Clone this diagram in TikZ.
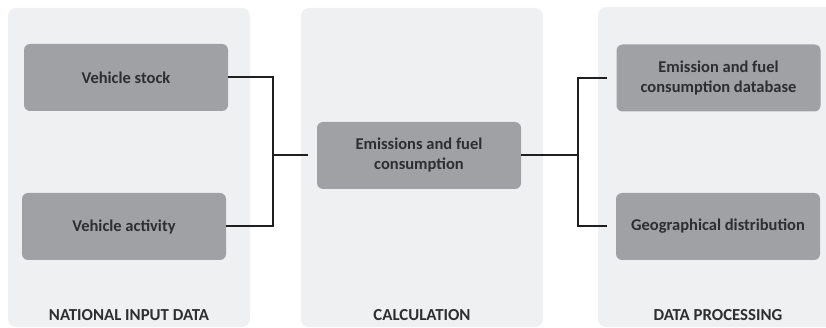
\documentclass[tikz,border=0pt]{standalone}
\usepackage{fontspec}
\setmainfont{Carlito}
\definecolor{panelgray}{HTML}{EFF0F2}
\definecolor{boxgray}{HTML}{A0A1A4}
\definecolor{txtgray}{HTML}{2E2E30}
\tikzset{
  panel/.style={fill=panelgray,rounded corners=8pt},
  stepbox/.style={fill=boxgray,rounded corners=6pt,minimum width=204pt,
    minimum height=67pt,align=center,inner sep=0pt,text=txtgray,
    font=\bfseries\fontsize{16.5}{20}\selectfont},
  paneltitle/.style={text=txtgray,font=\bfseries\fontsize{16.8}{19}\selectfont},
  wire/.style={line width=2pt,black!88}
}
\begin{document}
\begin{tikzpicture}[x=1pt,y=-1pt]
      \useasboundingbox (0,0) rectangle (826,328);
      \clip (0,0) rectangle (826,328);
      % background panels
      \path[panel] (8,8) rectangle (250,327);
      \path[panel] (301,8) rectangle (543,327);
      \path[panel] (598,7) rectangle (850,327);
      % boxes
      \node[stepbox] (stock) at (126,77.5) {Vehicle stock};
      \node[stepbox] (activity) at (124,226.5) {Vehicle activity};
      \node[stepbox] (calc) at (419,155.5) {Emissions and fuel\\consumption};
      \node[stepbox] (db) at (718.5,78) {Emission and fuel\\consumption database};
      \node[stepbox] (geo) at (718,226.5) {Geographical distribution};
      % panel titles
      \node[paneltitle] (natl) at (129,315.5) {NATIONAL INPUT DATA};
      \node[paneltitle] (calctitle) at (422,315.5) {CALCULATION};
      \node[paneltitle] (proc) at (718,315.5) {DATA PROCESSING};
      % connectors
      \coordinate (ljoin) at (273,155.5);
      \coordinate (rjoin) at (578,155.5);
      \draw[wire] (stock.east) -| (ljoin) |- (activity.east);
      \draw[wire] (ljoin) -- ([xshift=-9pt]calc.west);
      \draw[wire] (calc.east) -- (rjoin);
      \draw[wire] ([xshift=-9pt]db.west) -| (rjoin) |- ([xshift=-9pt]geo.west);
\end{tikzpicture}
\end{document}
